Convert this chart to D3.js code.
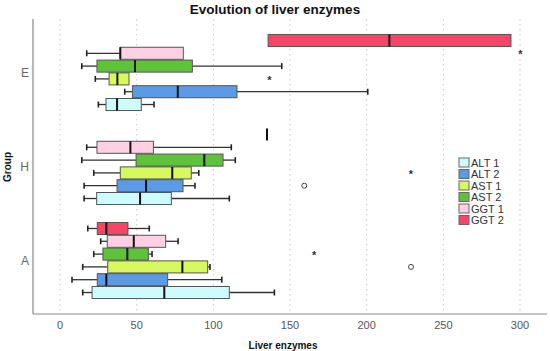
<!DOCTYPE html>
<html><head><meta charset="utf-8">
<script src="https://cdn.jsdelivr.net/npm/d3@7"></script>
<style>body{margin:0;background:#fff}svg{display:block}</style>
</head><body><svg id="c" width="550" height="351"></svg>
<script>
const groups = ["E", "H", "A"];
const series = ["ALT 1", "ALT 2", "AST 1", "AST 2", "GGT 1", "GGT 2"];
const xTicks = [0, 50, 100, 150, 200, 250, 300];
// [whiskerLow, q1, median, q3, whiskerHigh] per group E, H, A
const alt1 = [[25, 30, 37.2, 53, 61.3], [15.7, 23.9, 52.2, 72.6, 110.4], [14.8, 20.9, 68, 110.4, 139.8]];
const alt2 = [[42.2, 47.2, 76.8, 115.4, 200.7], [15.7, 37.2, 56.1, 80.2, 88], [7.8, 24.3, 30.2, 70.2, 105.5]];
const ast1 = [[23, 32, 37.4, 45, 45], [22, 39.3, 73.2, 85.6, 90.5], [14.8, 31.1, 79.8, 96.3, 97.8]];
const ast2 = [[14.2, 24.1, 48.9, 86.3, 144.6], [14.2, 49.6, 94.1, 106.3, 114.3], [22, 28, 43.9, 57.6, 60]];
const ggt1 = [[17.4, 39.3, 39.3, 80.4, 80.4], [17.4, 24.1, 45.9, 60.9, 111.7], [26.5, 30.8, 48.1, 68.9, 77]];
const ggt2 = [[135.7, 135.7, 214.8, 294.1, 294.1], [135, 135, 135, 135, 135], [18.1, 24.3, 30.2, 44.3, 58.2]];
const outlierGroup  = ["E", "E", "H", "H", "A", "A"];
const outlierSeries = ["GGT 1", "AST 1", "AST 1", "ALT 2", "AST 2", "AST 1"];
const outlierValue  = [300.2, 136.5, 228.9, 159.3, 165.7, 228.9];
const outlierKind   = ["star", "star", "star", "circle", "star", "circle"];
const colors = ["#ccfcfc", "#5a9ae6", "#d8f860", "#5ec23a", "#ffd0e4", "#f84466"];

const allStats = [alt1, alt2, ast1, ast2, ggt1, ggt2];
const svg = d3.select("#c");
const font = "'Liberation Sans', Arial, sans-serif";

const x = d3.scaleLinear().domain([-17.3, 317.6]).range([33.5, 547]);
const y = d3.scaleBand().domain(groups).range([25.5, 307.5]);
const inner = d3.scaleBand().domain(series.slice().reverse()).range([0, y.bandwidth()])
  .paddingInner(0.06).paddingOuter(0.70);
const color = d3.scaleOrdinal().domain(series).range(colors);

const plotTop = 19, plotBottom = 314;
// grid
svg.append("g").selectAll("line").data(xTicks).join("line")
  .attr("x1", d => x(d)).attr("x2", d => x(d)).attr("y1", plotTop).attr("y2", plotBottom)
  .attr("stroke", "#c8c8c8").attr("stroke-dasharray", "1.5,3.5");

// boxes
const rows = [];
series.forEach((s, si) => groups.forEach((g, gi) => {
  const [lo, q1, md, q3, hi] = allStats[si][gi];
  rows.push({s, g, lo, q1, md, q3, hi});
}));
const bh = inner.bandwidth();
const gRow = svg.append("g").selectAll("g").data(rows).join("g")
  .attr("transform", d => `translate(0,${y(d.g) + inner(d.s)})`);
// whiskers
gRow.append("line").attr("x1", d => x(d.lo)).attr("x2", d => x(d.q1))
  .attr("y1", bh / 2).attr("y2", bh / 2).attr("stroke", "#333").attr("stroke-width", 1.3);
gRow.append("line").attr("x1", d => x(d.q3)).attr("x2", d => x(d.hi))
  .attr("y1", bh / 2).attr("y2", bh / 2).attr("stroke", "#333").attr("stroke-width", 1.3);
// caps
gRow.filter(d => d.lo < d.q1).append("line").attr("x1", d => x(d.lo)).attr("x2", d => x(d.lo))
  .attr("y1", bh / 2 - 3).attr("y2", bh / 2 + 3).attr("stroke", "#222").attr("stroke-width", 1.6);
gRow.filter(d => d.hi > d.q3).append("line").attr("x1", d => x(d.hi)).attr("x2", d => x(d.hi))
  .attr("y1", bh / 2 - 3).attr("y2", bh / 2 + 3).attr("stroke", "#222").attr("stroke-width", 1.6);
// box
gRow.append("rect").attr("x", d => x(d.q1)).attr("width", d => x(d.q3) - x(d.q1))
  .attr("y", 0).attr("height", bh).attr("fill", d => color(d.s))
  .attr("stroke", "#555").attr("stroke-width", 1);
// median
gRow.append("line").attr("x1", d => x(d.md)).attr("x2", d => x(d.md))
  .attr("y1", 0).attr("y2", bh).attr("stroke", "#111").attr("stroke-width", 2);

// outliers
const outs = outlierValue.map((v, i) => ({v, g: outlierGroup[i], s: outlierSeries[i], k: outlierKind[i]}));
svg.append("g").selectAll("text").data(outs.filter(d => d.k === "star")).join("text")
  .attr("x", d => x(d.v)).attr("y", d => y(d.g) + inner(d.s) + bh / 2 + 5)
  .attr("text-anchor", "middle").attr("font-family", font).attr("font-size", 11)
  .attr("font-weight", "bold").attr("fill", "#333").text("*");
svg.append("g").selectAll("circle").data(outs.filter(d => d.k === "circle")).join("circle")
  .attr("cx", d => x(d.v)).attr("cy", d => y(d.g) + inner(d.s) + bh / 2).attr("r", 2.5)
  .attr("fill", "none").attr("stroke", "#444").attr("stroke-width", 1);

// axes lines
svg.append("line").attr("x1", 33).attr("x2", 33).attr("y1", plotTop).attr("y2", plotBottom)
  .attr("stroke", "#888").attr("stroke-width", 1.2);
svg.append("line").attr("x1", 33).attr("x2", 547).attr("y1", plotBottom).attr("y2", plotBottom)
  .attr("stroke", "#888").attr("stroke-width", 1.2);

// x tick labels
svg.append("g").selectAll("text").data(xTicks).join("text")
  .attr("x", d => x(d)).attr("y", 329).attr("text-anchor", "middle")
  .attr("font-family", font).attr("font-size", 11).attr("fill", "#555").text(d => d);
// y labels
svg.append("g").selectAll("text").data(groups).join("text")
  .attr("x", 29).attr("y", d => y(d) + y.bandwidth() / 2 + 4).attr("text-anchor", "end")
  .attr("font-family", font).attr("font-size", 12).attr("fill", "#666").text(d => d);

// titles
svg.append("text").attr("x", 275).attr("y", 14).attr("text-anchor", "middle")
  .attr("font-family", font).attr("font-size", 13.5).attr("font-weight", "bold").attr("fill", "#111")
  .text("Evolution of liver enzymes");
svg.append("text").attr("x", 283).attr("y", 349).attr("text-anchor", "middle")
  .attr("font-family", font).attr("font-size", 10).attr("font-weight", "bold").attr("fill", "#111")
  .text("Liver enzymes");
svg.append("text").attr("transform", "translate(11,167) rotate(-90)").attr("text-anchor", "middle")
  .attr("font-family", font).attr("font-size", 10).attr("font-weight", "bold").attr("fill", "#111")
  .text("Group");

// legend
const lg = svg.append("g").selectAll("g").data(series).join("g")
  .attr("transform", (d, i) => `translate(459,${158 + i * 11.5})`);
lg.append("rect").attr("width", 10).attr("height", 9).attr("fill", d => color(d))
  .attr("stroke", "#666").attr("stroke-width", 1);
lg.append("text").attr("x", 12).attr("y", 8.5).attr("font-family", font).attr("font-size", 11)
  .attr("fill", "#333").text(d => d);
</script></body></html>
